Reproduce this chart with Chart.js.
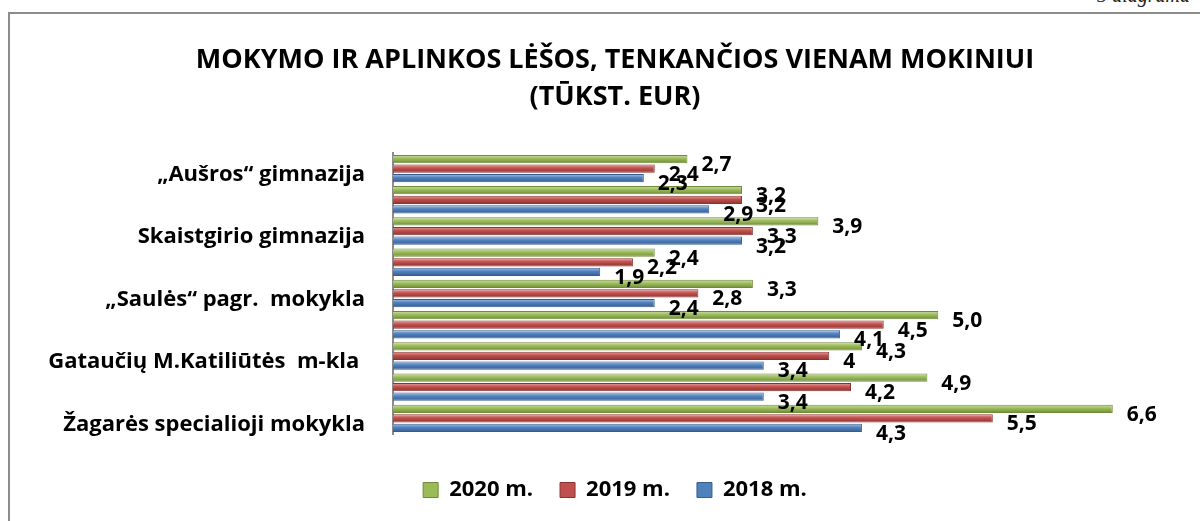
<!DOCTYPE html>
<html>
<head>
<meta charset="utf-8">
<script src="https://cdn.jsdelivr.net/npm/chart.js@4/dist/chart.umd.min.js"></script>
<style>
html,body{margin:0;padding:0;background:#fff;overflow:hidden}
#wrap{position:relative;width:1200px;height:521px}
#frame{position:absolute;left:8px;top:12px;width:1200px;height:520px;border-left:2px solid #8c8c8c;border-top:2px solid #8c8c8c}
#corner{position:absolute;right:10px;top:-16px;font:italic 20px "Liberation Serif",serif;color:#222}
canvas{position:absolute;left:0;top:0}
</style>
</head>
<body>
<div id="wrap">
<div id="corner">3 diagrama</div>
<div id="frame"></div>
<canvas id="c" width="1200" height="521"></canvas>
</div>
<script>
// categories top to bottom; only every other one carries a name in the picture
const schools = ['„Aušros“ gimnazija','','Skaistgirio gimnazija','','„Saulės“ pagr.  mokykla','','Gataučių M.Katiliūtės  m-kla ','','Žagarės specialioji mokykla'];
const years = ['2020 m.','2019 m.','2018 m.'];
// values kept as written on the chart ("5,0" vs "4")
const v2020 = ['2.7','3.2','3.9','2.4','3.3','5.0','4.3','4.9','6.6'];
const v2019 = ['2.4','3.2','3.3','2.2','2.8','4.5','4','4.2','5.5'];
const v2018 = ['2.3','2.9','3.2','1.9','2.4','4.1','3.4','3.4','4.3'];
const colors = ['#9bbb59','#c0504d','#4f81bd'];
const lights = ['#cfe0a8','#e6a3a1','#a9c2e4'];
const edges = ['#6f8a3a','#8c3331','#375d8e'];

const FONT = '"Open Sans", sans-serif';

// cylinder-ish shading, done once the bars have their positions
const shade = {
  id:'shade',
  beforeDatasetsDraw(chart){
    const ctx = chart.ctx;
    chart.data.datasets.forEach((ds,i)=>{
      chart.getDatasetMeta(i).data.forEach(bar=>{
        const h = bar.height, y0 = bar.y-h/2;
        const g = ctx.createLinearGradient(0,y0,0,y0+h);
        g.addColorStop(0,lights[i]); g.addColorStop(0.45,colors[i]); g.addColorStop(1,edges[i]);
        bar.options = Object.assign({}, bar.options, { backgroundColor:g });
      });
    });
  }
};

// value labels next to the bar ends
const valueLabels = {
  id:'valueLabels',
  afterDatasetsDraw(chart){
    const ctx = chart.ctx; ctx.save();
    ctx.font = 'bold 21px '+FONT; ctx.fillStyle='#000'; ctx.textBaseline='middle'; ctx.textAlign='left';
    chart.data.datasets.forEach((ds,i)=>{
      chart.getDatasetMeta(i).data.forEach((bar,j)=>{
        ctx.fillText(String(ds.data[j]).replace('.',','), bar.x+14, bar.y+6);
      });
    });
    ctx.restore();
  }
};

new Chart(document.getElementById('c'), {
  type:'bar',
  data:{ labels:schools, datasets:[
    { label:years[0], data:v2020, backgroundColor:colors[0], borderColor:edges[0], borderWidth:1 },
    { label:years[1], data:v2019, backgroundColor:colors[1], borderColor:edges[1], borderWidth:1 },
    { label:years[2], data:v2018, backgroundColor:colors[2], borderColor:edges[2], borderWidth:1 }
  ]},
  options:{
    indexAxis:'y', responsive:false, animation:false,
    categoryPercentage:0.92, barPercentage:0.86,
    // right side runs past the canvas so title and legend centre where the original has them
    layout:{ padding:{ left:8, right:-22, top:42, bottom:10 } },
    scales:{
      x:{ display:true, min:0, max:7.4, grid:{ display:false }, border:{ display:false }, ticks:{ display:false },
          afterFit(s){ s.height = 18; } },
      y:{ grid:{ display:false, drawTicks:false }, border:{ display:true, color:'#8c8c8c', width:2 },
          ticks:{ color:'#000', font:{ family:FONT, size:22, weight:'bold' }, padding:28, labelOffset:6, autoSkip:false },
          afterFit(s){ s.width = 385; } }
    },
    plugins:{
      title:{ display:true, text:['MOKYMO IR APLINKOS LĖŠOS, TENKANČIOS VIENAM MOKINIUI','(TŪKST. EUR)'],
        color:'#000', font:{ family:FONT, size:27, weight:'bold', lineHeight:1.37 }, padding:{ top:0, bottom:37 } },
      legend:{ position:'bottom', labels:{ color:'#000', boxWidth:15, boxHeight:15, padding:27,
        font:{ family:FONT, size:22, weight:'bold' } } },
      tooltip:{ enabled:false }
    }
  },
  plugins:[shade, valueLabels]
});
</script>
</body>
</html>
